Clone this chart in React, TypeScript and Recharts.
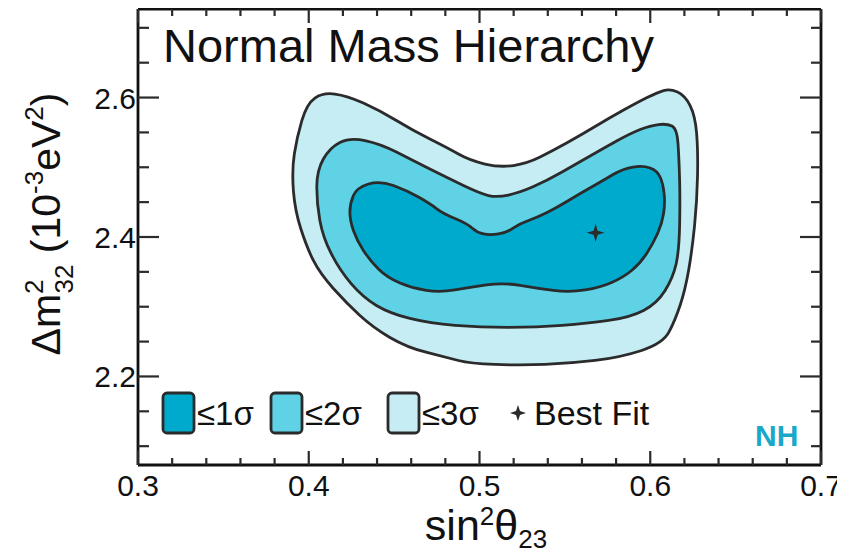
import { Scatter, ScatterChart, XAxis, YAxis } from 'recharts'

// contour outlines, (sin^2 theta23, dm^2_32) pairs, clockwise
const sigma3: [number, number][] = [
  [0.4083, 2.6072], [0.4223, 2.6029], [0.4417, 2.5814], [0.461, 2.5527], [0.4809, 2.5283],
  [0.4944, 2.5097], [0.512, 2.4996], [0.5279, 2.5054], [0.5431, 2.524], [0.5589, 2.5455],
  [0.5765, 2.5713], [0.5923, 2.5928], [0.604, 2.6072], [0.6116, 2.6129], [0.6204, 2.6029],
  [0.6263, 2.5742], [0.628, 2.524], [0.6274, 2.4523], [0.6245, 2.3806], [0.6204, 2.3233],
  [0.6145, 2.2803], [0.6075, 2.2473], [0.5824, 2.2272], [0.553, 2.2186], [0.5237, 2.2158],
  [0.4944, 2.2186], [0.4809, 2.2272], [0.4575, 2.2416], [0.4376, 2.2703], [0.4223, 2.3047],
  [0.4065, 2.3477], [0.3989, 2.3849], [0.3919, 2.438], [0.3901, 2.4953], [0.393, 2.5427],
  [0.3989, 2.5914]
]

const sigma2: [number, number][] = [
  [0.4241, 2.5427], [0.4417, 2.534], [0.461, 2.5097], [0.4809, 2.4853], [0.5003, 2.4624],
  [0.5102, 2.4566], [0.5237, 2.4638], [0.5396, 2.481], [0.5571, 2.5054], [0.5724, 2.5269],
  [0.5882, 2.5484], [0.6, 2.5599], [0.6098, 2.5627], [0.6157, 2.5556], [0.6169, 2.5097],
  [0.6175, 2.4523], [0.6169, 2.3806], [0.6134, 2.3419], [0.604, 2.3047], [0.5882, 2.2846],
  [0.563, 2.276], [0.5337, 2.2703], [0.5003, 2.2703], [0.471, 2.276], [0.4475, 2.2903],
  [0.4317, 2.3133], [0.4182, 2.352], [0.4083, 2.3993], [0.4047, 2.448], [0.4047, 2.4953],
  [0.4124, 2.5283]
]

const sigma1: [number, number][] = [
  [0.4417, 2.481], [0.4575, 2.4667], [0.471, 2.448], [0.4786, 2.4337], [0.4927, 2.4194],
  [0.4985, 2.4065], [0.5061, 2.4022], [0.5161, 2.4065], [0.5237, 2.4194], [0.5337, 2.428],
  [0.5454, 2.4423], [0.5589, 2.4624], [0.5724, 2.481], [0.5841, 2.4982], [0.5959, 2.5025],
  [0.604, 2.4953], [0.6075, 2.4767], [0.6087, 2.448], [0.6069, 2.4194], [0.6017, 2.3907],
  [0.5941, 2.362], [0.5841, 2.3419], [0.5707, 2.3276], [0.553, 2.3204], [0.5337, 2.3262],
  [0.5138, 2.3348], [0.4944, 2.3276], [0.4768, 2.3204], [0.461, 2.3262], [0.4458, 2.3419],
  [0.4358, 2.3663], [0.4282, 2.395], [0.4241, 2.4237], [0.4241, 2.448], [0.4282, 2.471]
]

const bestFit: [number, number][] = [[0.568, 2.406]]

const xTicks = [
  0.3, 0.32, 0.34, 0.36, 0.38, 0.4, 0.42, 0.44, 0.46, 0.48, 0.5,
  0.52, 0.54, 0.56, 0.58, 0.6, 0.62, 0.64, 0.66, 0.68, 0.7
]
const xLabels = [0.3, 0.4, 0.5, 0.6, 0.7]
const yTicks = [2.1, 2.15, 2.2, 2.25, 2.3, 2.35, 2.4, 2.45, 2.5, 2.55, 2.6, 2.65, 2.7]
const yLabels = [2.2, 2.4, 2.6]

const legendLabels = ['≤1σ', '≤2σ', '≤3σ']
const bestFitLabel = 'Best Fit'
const title = 'Normal Mass Hierarchy'

const INK = '#2b2b2b'
const FILLS = ['#00aacc', '#5fd2e6', '#c6edf3']
const FONT = '"Liberation Sans", Arial, Helvetica, sans-serif'

const toPoints = (pairs: [number, number][]) => pairs.map(([x, y]) => ({ x, y }))
const near = (a: number, b: number) => Math.abs(a - b) < 1e-6

// closed outline through the midpoints, vertices used as control points
const smoothClosed = (pts: { x: number; y: number }[]) => {
  const n = pts.length
  const mid = (a: { x: number; y: number }, b: { x: number; y: number }) => ({
    x: (a.x + b.x) / 2,
    y: (a.y + b.y) / 2
  })
  const start = mid(pts[n - 1], pts[0])
  let d = `M${start.x},${start.y}`
  for (let i = 0; i < n; i++) {
    const p = pts[i]
    const m = mid(p, pts[(i + 1) % n])
    d += ` Q${p.x},${p.y} ${m.x},${m.y}`
  }
  return d + 'Z'
}

const contour = (fill: string) => (props: any) =>
  <path d={smoothClosed(props.points)} fill={fill} stroke={INK} strokeWidth={2.8} strokeLinejoin="round" />

const starPath = (cx: number, cy: number, r: number, w: number) =>
  `M${cx},${cy - r} L${cx + w},${cy - w} L${cx + r},${cy} L${cx + w},${cy + w} ` +
  `L${cx},${cy + r} L${cx - w},${cy + w} L${cx - r},${cy} L${cx - w},${cy - w} Z`

const Star = (props: any) => <path d={starPath(props.cx, props.cy, 9, 2)} fill={INK} />

const BottomTick = (props: any) => {
  const { x, y, payload } = props
  const major = xLabels.some((m) => near(m, payload.value))
  return (
    <g>
      <line x1={x} x2={x} y1={y} y2={y - (major ? 14 : 7)} stroke={INK} strokeWidth={2.2} />
      {major && (
        <text x={x} y={y + 31} textAnchor="middle" fontSize={30} fill="#111" fontFamily={FONT}>
          {payload.value.toFixed(1)}
        </text>
      )}
    </g>
  )
}

const TopTick = (props: any) => {
  const { x, y, payload } = props
  const major = xLabels.some((m) => near(m, payload.value))
  return <line x1={x} x2={x} y1={y} y2={y + (major ? 14 : 7)} stroke={INK} strokeWidth={2.2} />
}

const LeftTick = (props: any) => {
  const { x, y, payload } = props
  const major = yLabels.some((m) => near(m, payload.value))
  return (
    <g>
      <line x1={x} x2={x + (major ? 21 : 11)} y1={y} y2={y} stroke={INK} strokeWidth={2.2} />
      {major && (
        <text x={x - 2} y={y + 11} textAnchor="end" fontSize={30} fill="#111" fontFamily={FONT}>
          {payload.value.toFixed(1)}
        </text>
      )}
    </g>
  )
}

const RightTick = (props: any) => {
  const { x, y, payload } = props
  const major = yLabels.some((m) => near(m, payload.value))
  return <line x1={x} x2={x - (major ? 21 : 10)} y1={y} y2={y} stroke={INK} strokeWidth={2.2} />
}

const W = 837
const H = 549
const axisLine = { stroke: '#111', strokeWidth: 2.8 }

const App = () => {
  const legendBoxX = [155, 263, 380]
  return (
    <div style={{ position: 'relative', width: W, height: H, fontFamily: FONT, background: '#fff' }}>
      <ScatterChart width={W} height={H} margin={{ top: 0, right: 0, bottom: 0, left: 0 }}>
        <XAxis
          type="number" dataKey="x" domain={[0.3, 0.7]} ticks={xTicks} interval={0}
          allowDataOverflow height={92} tickLine={false} tickSize={0} tickMargin={0}
          axisLine={axisLine} tick={<BottomTick />}
        />
        <XAxis
          xAxisId="top" orientation="top" type="number" dataKey="x" domain={[0.3, 0.7]}
          ticks={xTicks} interval={0} allowDataOverflow height={1} tickLine={false}
          tickSize={0} tickMargin={0} axisLine={axisLine} tick={<TopTick />}
        />
        <YAxis
          type="number" dataKey="y" domain={[2.073, 2.727]} ticks={yTicks} interval={0}
          allowDataOverflow width={130} tickLine={false} tickSize={0} tickMargin={0}
          axisLine={axisLine} tick={<LeftTick />}
        />
        <YAxis
          yAxisId="right" orientation="right" type="number" dataKey="y" domain={[2.073, 2.727]}
          ticks={yTicks} interval={0} allowDataOverflow width={24} tickLine={false}
          tickSize={0} tickMargin={0} axisLine={axisLine} tick={<RightTick />}
        />
        <Scatter data={toPoints(sigma3)} line={contour(FILLS[2])} shape={() => <g />} isAnimationActive={false} />
        <Scatter data={toPoints(sigma2)} line={contour(FILLS[1])} shape={() => <g />} isAnimationActive={false} />
        <Scatter data={toPoints(sigma1)} line={contour(FILLS[0])} shape={() => <g />} isAnimationActive={false} />
        <Scatter data={toPoints(bestFit)} shape={<Star />} isAnimationActive={false} />
      </ScatterChart>

      <svg width={W} height={H} style={{ position: 'absolute', left: 0, top: 0, pointerEvents: 'none' }}>
        <text x={155} y={54} fontSize={47} fill="#111" fontFamily={FONT}>{title}</text>

        {legendLabels.map((label, i) => (
          <g key={label}>
            <rect x={legendBoxX[i]} y={385} width={31} height={40} rx={4} fill={FILLS[i]} stroke={INK} strokeWidth={2.8} />
            <text x={legendBoxX[i] + 34} y={417} fontSize={33} fill="#111" fontFamily={FONT}>{label}</text>
          </g>
        ))}
        <path d={starPath(510, 405, 8, 2)} fill={INK} />
        <text x={526} y={417} fontSize={34} fill="#111" fontFamily={FONT}>{bestFitLabel}</text>

        <text x={747} y={438} fontSize={30} fontWeight="bold" fill="#1aa8c9" fontFamily={FONT}>NH</text>

        <text x={478} y={532} fontSize={43} textAnchor="middle" fill="#111" fontFamily={FONT}>
          sin<tspan fontSize={26} dy={-15}>2</tspan>
          <tspan dy={15}>θ</tspan>
          <tspan fontSize={26} dy={8}>23</tspan>
        </text>

        <text
          x={52} y={216} fontSize={41} textAnchor="middle" fill="#111" fontFamily={FONT}
          transform="rotate(-90 52 216)"
        >
          Δm<tspan fontSize={26} dy={-17}>2</tspan>
          <tspan fontSize={26} dx={-14} dy={30}>32</tspan>
          <tspan dy={-13}> (10</tspan>
          <tspan fontSize={26} dy={-17}>-3</tspan>
          <tspan dy={17}>eV</tspan>
          <tspan fontSize={26} dy={-17}>2</tspan>
          <tspan dy={17}>)</tspan>
        </text>
      </svg>
    </div>
  )
}

export default App
